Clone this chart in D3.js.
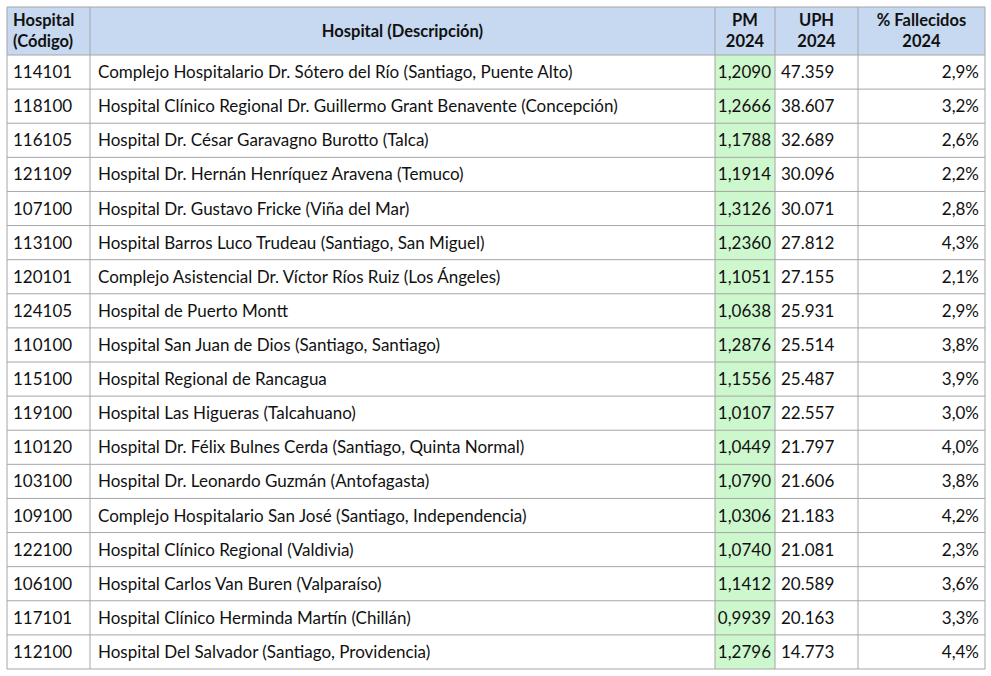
<!DOCTYPE html>
<html><head><meta charset="utf-8">
<script src="https://cdn.jsdelivr.net/npm/d3@7"></script>
<style>body{margin:0;background:#fff}</style>
</head><body><div id="chart"></div>
<script>
// table data
const headers = [["Hospital", "(Código)"], ["Hospital (Descripción)"], ["PM", "2024"], ["UPH", "2024"], ["% Fallecidos", "2024"]];
const codes = ["114101","118100","116105","121109","107100","113100","120101","124105","110100","115100","119100","110120","103100","109100","122100","106100","117101","112100"];
const names = [
  "Complejo Hospitalario Dr. Sótero del Río (Santiago, Puente Alto)",
  "Hospital Clínico Regional Dr. Guillermo Grant Benavente (Concepción)",
  "Hospital Dr. César Garavagno Burotto (Talca)",
  "Hospital Dr. Hernán Henríquez Aravena (Temuco)",
  "Hospital Dr. Gustavo Fricke (Viña del Mar)",
  "Hospital Barros Luco Trudeau (Santiago, San Miguel)",
  "Complejo Asistencial Dr. Víctor Ríos Ruiz (Los Ángeles)",
  "Hospital de Puerto Montt",
  "Hospital San Juan de Dios (Santiago, Santiago)",
  "Hospital Regional de Rancagua",
  "Hospital Las Higueras (Talcahuano)",
  "Hospital Dr. Félix Bulnes Cerda (Santiago, Quinta Normal)",
  "Hospital Dr. Leonardo Guzmán (Antofagasta)",
  "Complejo Hospitalario San José (Santiago, Independencia)",
  "Hospital Clínico Regional (Valdivia)",
  "Hospital Carlos Van Buren (Valparaíso)",
  "Hospital Clínico Herminda Martín (Chillán)",
  "Hospital Del Salvador (Santiago, Providencia)"
];
const pm = ["1,2090","1,2666","1,1788","1,1914","1,3126","1,2360","1,1051","1,0638","1,2876","1,1556","1,0107","1,0449","1,0790","1,0306","1,0740","1,1412","0,9939","1,2796"];
const uph = ["47.359","38.607","32.689","30.096","30.071","27.812","27.155","25.931","25.514","25.487","22.557","21.797","21.606","21.183","21.081","20.589","20.163","14.773"];
const fallecidos = ["2,9%","3,2%","2,6%","2,2%","2,8%","4,3%","2,1%","2,9%","3,8%","3,9%","3,0%","4,0%","3,8%","4,2%","2,3%","3,6%","3,3%","4,4%"];

const W = 991, H = 676;
const colEdges = [7, 90, 715, 775, 858, 985];
const topY = 7, headH = 48, bottomY = 669;
const font = "Lato, 'Open Sans', sans-serif";

const svg = d3.select("#chart").append("svg").attr("width", W).attr("height", H);

const y = d3.scaleBand().domain(d3.range(codes.length)).range([topY + headH, bottomY]);

// header
svg.append("rect").attr("x", colEdges[0]).attr("y", topY).attr("width", colEdges[5] - colEdges[0]).attr("height", headH).attr("fill", "#c6d9f0");
headers.forEach((h, i) => {
  const cx = i == 0 ? colEdges[0] + 6 : (colEdges[i] + colEdges[i + 1]) / 2;
  const t = svg.append("text").attr("font-family", font).attr("font-size", 16.5).attr("font-weight", 700).attr("fill", "#111")
    .attr("text-anchor", i == 0 ? "start" : "middle");
  if (h.length == 1) t.append("tspan").attr("x", cx).attr("y", topY + 30).text(h[0]);
  else h.forEach((s, k) => t.append("tspan").attr("x", cx).attr("y", topY + 19 + k * 21).text(s));
});

// green PM column
svg.selectAll(".pmbg").data(pm).enter().append("rect")
  .attr("x", colEdges[2]).attr("y", (d, i) => y(i)).attr("width", colEdges[3] - colEdges[2]).attr("height", y.bandwidth())
  .attr("fill", "#cdf7cd");

// cells
const cols = [
  { vals: codes, x: colEdges[0] + 6, anchor: "start" },
  { vals: names, x: colEdges[1] + 8, anchor: "start" },
  { vals: pm, x: colEdges[3] - 4, anchor: "end" },
  { vals: uph, x: colEdges[3] + 6, anchor: "start" },
  { vals: fallecidos, x: colEdges[5] - 6, anchor: "end" }
];
cols.forEach(c => {
  svg.append("g").selectAll("text").data(c.vals).enter().append("text")
    .attr("x", c.x).attr("y", (d, i) => y(i) + y.bandwidth() / 2 + 6)
    .attr("text-anchor", c.anchor).attr("font-family", font).attr("font-size", 17).attr("fill", "#111")
    .text(d => d);
});

// grid lines
const grid = svg.append("g").attr("stroke", "#a6a6a6").attr("stroke-width", 1);
const rowLines = [topY, topY + headH].concat(d3.range(codes.length).map(i => y(i) + y.bandwidth()));
rowLines.forEach(v => grid.append("line").attr("x1", colEdges[0]).attr("x2", colEdges[5]).attr("y1", v).attr("y2", v));
colEdges.forEach(v => grid.append("line").attr("x1", v).attr("x2", v).attr("y1", topY).attr("y2", bottomY));
</script></body></html>
